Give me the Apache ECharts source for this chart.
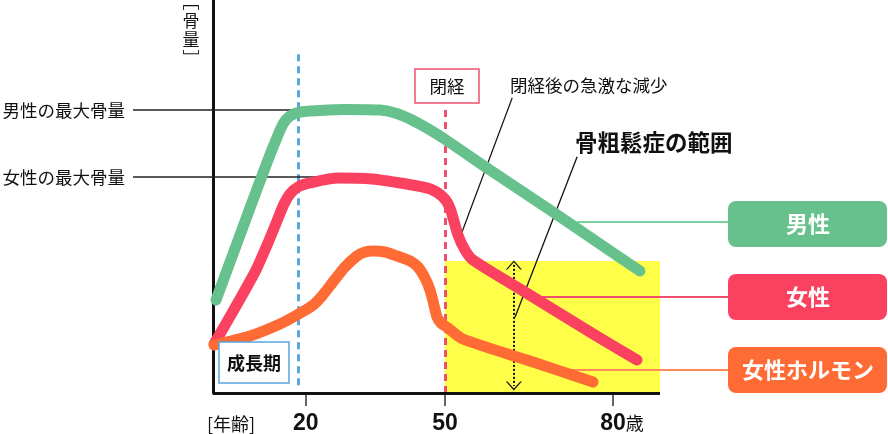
<!DOCTYPE html>
<html>
<head>
<meta charset="utf-8">
<title>骨量の変化</title>
<script src="https://cdn.jsdelivr.net/npm/echarts@6/dist/echarts.min.js"></script>
<style>
  html, body { margin: 0; padding: 0; background: #fff; }
  #chart { width: 888px; height: 434px; }
</style>
</head>
<body>
<div id="chart"></div>
<script>
// 年齢（横軸）と骨量（縦軸 0-100 の相対値）
const maleAge = [0.65, 7.97, 11.85, 13.58, 15.09, 16.59, 18.75, 23.06, 28.45, 35.99, 39.22, 42.46, 45.69, 49.57, 58.04, 69.29, 77.68, 84.82]
const maleBone = [23.66, 47.07, 59.29, 64.38, 68.45, 70.48, 71.5, 71.88, 72.14, 72.01, 71.25, 69.72, 67.68, 64.89, 56.74, 46.06, 37.91, 31.04]

const femaleAge = [0.22, 2.37, 5.82, 9.27, 11.85, 13.79, 15.3, 16.59, 18.32, 20.91, 26.94, 34.27, 42.89, 46.77, 49.57, 50.89, 52.32, 53.57, 55.0, 63.39, 75.89, 84.29]
const femaleBone = [12.47, 16.79, 23.92, 31.3, 38.17, 43.77, 48.09, 50.64, 52.42, 53.44, 54.71, 54.45, 52.93, 51.91, 49.87, 47.07, 40.2, 36.39, 33.84, 26.46, 15.52, 8.4]

const hormoneAge = [0.22, 7.97, 14.44, 18.1, 21.34, 23.49, 25.86, 28.45, 31.03, 32.76, 34.48, 37.07, 39.66, 42.46, 44.18, 45.69, 46.77, 47.63, 48.28, 49.14, 50.54, 53.21, 65.18, 76.43]
const hormoneLevel = [12.21, 14.5, 17.56, 19.85, 22.14, 24.68, 28.24, 32.06, 34.86, 35.88, 36.13, 35.88, 34.86, 33.59, 32.06, 29.26, 26.21, 22.39, 19.34, 17.81, 16.54, 13.74, 8.14, 2.8]

const ageTicks = [20, 50, 80]
const ageTickLabels = ['20', '50', '80']

const growthEndAge = 18.3 // 成長期の終わり
const menopauseAge = 50 // 閉経
const osteoRangeTop = 33.6 // 骨粗鬆症の範囲の上限
const maleMax = 72.0
const femaleMax = 55.0

const seriesNames = ['男性', '女性', '女性ホルモン']
const colors = ['#66C18C', '#FA4160', '#FF6B35']

// 図は50歳以降の横幅が少し広いので、その分だけ引き伸ばす
const OLD_STRETCH = 5.6 / 4.64
function toU (age) {
  return age <= 50 ? age : 50 + (age - 50) * OLD_STRETCH
}
const AXIS_END = toU(88.4) // 横軸の線の右端
const LEFT_EDGE = -17.24 // 最大骨量の線の左端（軸の外）
const RIGHT_EDGE = 100.54 // 凡例の箱の左端

function pairs (ages, vals) {
  return ages.map((a, i) => [toU(a), vals[i]])
}

const FONT = '"Noto Sans CJK JP", sans-serif'
const chart = echarts.init(document.getElementById('chart'))

const curveSeries = [
  pairs(maleAge, maleBone),
  pairs(femaleAge, femaleBone),
  pairs(hormoneAge, hormoneLevel)
].map((data, i) => ({
  name: seriesNames[i],
  type: 'line',
  data: data,
  smooth: 0.25,
  showSymbol: false,
  silent: true,
  z: 5,
  lineStyle: { color: colors[i], width: 11, cap: 'round', join: 'round' }
}))

function seg (a1, v1, a2, v2, style, label) {
  return [
    { coord: [toU(a1), v1], lineStyle: style, label: label || { show: false } },
    { coord: [toU(a2), v2] }
  ]
}

const chevron = 'path://M0,10L10,0L20,10L18,10L10,2.2L2,10Z'
const blackLine = { color: '#222', width: 1.5, type: 'solid' }

const option = {
  animation: false,
  backgroundColor: '#fff',
  grid: { left: 133, right: 160, top: 0, bottom: 41, outerBoundsMode: 'none' },
  xAxis: {
    type: 'value',
    min: toU(LEFT_EDGE),
    max: toU(RIGHT_EDGE),
    axisLine: { show: false },
    axisTick: {
      show: true,
      customValues: ageTicks.map(toU),
      length: 13,
      lineStyle: { color: '#333', width: 1.5 }
    },
    axisLabel: {
      customValues: ageTicks.map(toU),
      margin: 19,
      formatter: function (val) {
        let idx = 0
        ageTicks.forEach((t, i) => { if (Math.abs(toU(t) - val) < Math.abs(toU(ageTicks[idx]) - val)) idx = i })
        if (idx === ageTicks.length - 1) return '{p|}{n|' + ageTickLabels[idx] + '}{s|歳}'
        return '{n|' + ageTickLabels[idx] + '}'
      },
      rich: {
        n: { fontFamily: '"Liberation Sans Narrow", "Liberation Sans", sans-serif', fontWeight: 'bold', fontSize: 23, color: '#111' },
        s: { fontFamily: FONT, fontSize: 18, color: '#111', verticalAlign: 'middle' },
        p: { width: 18 }
      }
    },
    splitLine: { show: false }
  },
  yAxis: {
    type: 'value',
    min: 0,
    max: 100,
    axisLine: { show: true, onZero: true, lineStyle: { color: '#111', width: 3 } },
    axisTick: { show: false },
    axisLabel: { show: false },
    splitLine: { show: false }
  },
  series: [
    // 骨粗鬆症の範囲と縦の破線（曲線の下）
    {
      type: 'line',
      data: [],
      clip: false,
      silent: true,
      z: 1,
      markArea: {
        silent: true,
        itemStyle: { color: '#FFFF4A' },
        data: [[{ coord: [toU(menopauseAge), 0] }, { coord: [AXIS_END, osteoRangeTop] }]]
      },
      markLine: {
        silent: true,
        symbol: 'none',
        label: { show: false },
        data: [
          seg(growthEndAge, 2, growthEndAge, 86.8, { color: '#5AA5DA', width: 3, type: [7, 5] }),
          seg(menopauseAge, 0, menopauseAge, 72.8, { color: '#F0506E', width: 3, type: [7, 5] })
        ]
      }
    },
    ...curveSeries,
    // 横軸の線と注記の線（曲線の上）
    {
      type: 'line',
      data: [],
      clip: false,
      silent: true,
      z: 10,
      markLine: {
        silent: true,
        symbol: 'none',
        label: { show: false },
        data: [
          seg(0, 0, 88.4, 0, { color: '#111', width: 3, type: 'solid' }),
          seg(LEFT_EDGE, maleMax, 28.9, maleMax, blackLine,
            { show: true, position: 'start', distance: 8, formatter: '男性の最大骨量', fontFamily: FONT, fontSize: 17.5, color: '#111' }),
          seg(LEFT_EDGE, femaleMax, 28.9, femaleMax, blackLine,
            { show: true, position: 'start', distance: 8, formatter: '女性の最大骨量', fontFamily: FONT, fontSize: 17.5, color: '#111' }),
          seg(62.0, 75.1, 52.5, 38.9, { color: '#111', width: 1.3, type: 'solid' }),
          seg(73.6, 60.1, 62.5, 19.3, { color: '#111', width: 1.3, type: 'solid' }),
          seg(73.6, 43.5, RIGHT_EDGE, 43.5, { color: '#7DD3A0', width: 2, type: 'solid' }),
          seg(67.0, 24.6, RIGHT_EDGE, 24.6, { color: '#F0506E', width: 2, type: 'solid' }),
          seg(72.3, 6.0, RIGHT_EDGE, 6.0, { color: '#FF8A5C', width: 2, type: 'solid' }),
          [
            { coord: [toU(62.3), 32.6], symbol: chevron, symbolSize: [16, 9], lineStyle: { color: '#111', width: 2, type: [2, 2] } },
            { coord: [toU(62.3), 1.8], symbol: chevron, symbolSize: [16, 9] }
          ]
        ]
      }
    }
  ],
  graphic: [
    { type: 'text', x: 191, y: -8, z: 20, style: { text: '﹇\n骨\n量\n﹈', font: '17px ' + FONT, fill: '#111', align: 'center', lineHeight: 19 } },
    { type: 'text', x: 207, y: 424, z: 20, style: { text: '[年齢]', font: '18px ' + FONT, fill: '#111', verticalAlign: 'middle' } },
    { type: 'rect', z: 20, shape: { x: 415, y: 69, width: 64, height: 34 }, style: { fill: '#fff', stroke: '#F0506E', lineWidth: 1.5 } },
    { type: 'text', x: 447, y: 86, z: 21, style: { text: '閉経', font: '17.5px ' + FONT, fill: '#111', align: 'center', verticalAlign: 'middle' } },
    { type: 'rect', z: 20, shape: { x: 219, y: 342, width: 70, height: 41 }, style: { fill: '#fff', stroke: '#5AA5DA', lineWidth: 1.5 } },
    { type: 'text', x: 254, y: 363, z: 21, style: { text: '成長期', font: 'bold 18px ' + FONT, fill: '#111', align: 'center', verticalAlign: 'middle' } },
    { type: 'text', x: 510, y: 85, z: 20, style: { text: '閉経後の急激な減少', font: '17.5px ' + FONT, fill: '#111', verticalAlign: 'middle' } },
    { type: 'text', x: 575, y: 142, z: 20, style: { text: '骨粗鬆症の範囲', font: 'bold 22.5px ' + FONT, fill: '#111', verticalAlign: 'middle' } },
    // 凡例の箱
    ...seriesNames.map((name, i) => ({
      type: 'group',
      z: 20,
      children: [
        { type: 'rect', shape: { x: 728, y: 201 + i * 73, width: 159, height: 46, r: 8 }, style: { fill: colors[i] } },
        { type: 'text', x: 808, y: 224 + i * 73, style: { text: name, font: 'bold 22px ' + FONT, fill: '#fff', align: 'center', verticalAlign: 'middle' } }
      ]
    }))
  ]
}

chart.setOption(option)
</script>
</body>
</html>
